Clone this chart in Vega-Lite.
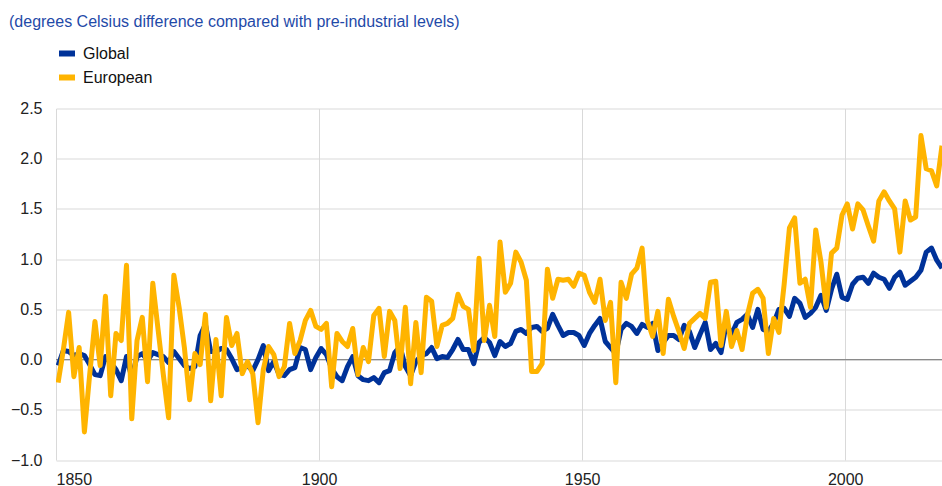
{
  "$schema": "https://vega.github.io/schema/vega-lite/v6.json",
  "width": 886,
  "height": 351.5,
  "autosize": {"type": "none"},
  "padding": {"left": 56, "top": 108.5, "right": 0, "bottom": 26},
  "background": "white",
  "config": {"view": {"stroke": null}, "font": "Liberation Sans"},
  "title": {
    "text": "(degrees Celsius difference compared with pre-industrial levels)",
    "anchor": "start", "frame": "group", "dx": -47, "offset": 13,
    "font": "Liberation Sans", "fontSize": 16, "fontWeight": "normal", "color": "#1f4aa8"
  },
  "data": {"values": [
    {"year":1850,"Global":-0.06,"European":-0.23},
    {"year":1851,"Global":0.09,"European":0.10},
    {"year":1852,"Global":0.08,"European":0.47},
    {"year":1853,"Global":0.04,"European":-0.17},
    {"year":1854,"Global":0.06,"European":0.12},
    {"year":1855,"Global":0.04,"European":-0.72},
    {"year":1856,"Global":-0.05,"European":-0.15},
    {"year":1857,"Global":-0.15,"European":0.38},
    {"year":1858,"Global":-0.16,"European":-0.06},
    {"year":1859,"Global":0.03,"European":0.63},
    {"year":1860,"Global":-0.03,"European":-0.36},
    {"year":1861,"Global":-0.10,"European":0.26},
    {"year":1862,"Global":-0.21,"European":0.19},
    {"year":1863,"Global":0.03,"European":0.94},
    {"year":1864,"Global":-0.18,"European":-0.59},
    {"year":1865,"Global":0.03,"European":0.19},
    {"year":1866,"Global":0.06,"European":0.42},
    {"year":1867,"Global":-0.01,"European":-0.22},
    {"year":1868,"Global":0.07,"European":0.76},
    {"year":1869,"Global":0.05,"European":0.30},
    {"year":1870,"Global":0.03,"European":-0.15},
    {"year":1871,"Global":-0.03,"European":-0.58},
    {"year":1872,"Global":0.08,"European":0.84},
    {"year":1873,"Global":0.01,"European":0.52},
    {"year":1874,"Global":-0.06,"European":0.12},
    {"year":1875,"Global":-0.09,"European":-0.40},
    {"year":1876,"Global":-0.07,"European":0.06},
    {"year":1877,"Global":0.24,"European":-0.05},
    {"year":1878,"Global":0.35,"European":0.45},
    {"year":1879,"Global":0.08,"European":-0.41},
    {"year":1880,"Global":0.08,"European":0.20},
    {"year":1881,"Global":0.11,"European":-0.36},
    {"year":1882,"Global":0.10,"European":0.42},
    {"year":1883,"Global":0.01,"European":0.14},
    {"year":1884,"Global":-0.10,"European":0.26},
    {"year":1885,"Global":-0.08,"European":-0.14},
    {"year":1886,"Global":-0.06,"European":-0.02},
    {"year":1887,"Global":-0.11,"European":-0.14},
    {"year":1888,"Global":0.00,"European":-0.63},
    {"year":1889,"Global":0.14,"European":-0.10},
    {"year":1890,"Global":-0.11,"European":0.13},
    {"year":1891,"Global":-0.02,"European":0.05},
    {"year":1892,"Global":-0.15,"European":-0.17},
    {"year":1893,"Global":-0.16,"European":-0.07},
    {"year":1894,"Global":-0.10,"European":0.36},
    {"year":1895,"Global":-0.08,"European":0.06},
    {"year":1896,"Global":0.12,"European":0.19},
    {"year":1897,"Global":0.10,"European":0.39},
    {"year":1898,"Global":-0.10,"European":0.49},
    {"year":1899,"Global":0.02,"European":0.33},
    {"year":1900,"Global":0.11,"European":0.30},
    {"year":1901,"Global":0.05,"European":0.36},
    {"year":1902,"Global":-0.09,"European":-0.27},
    {"year":1903,"Global":-0.17,"European":0.26},
    {"year":1904,"Global":-0.21,"European":0.18},
    {"year":1905,"Global":-0.07,"European":0.13},
    {"year":1906,"Global":0.03,"European":0.31},
    {"year":1907,"Global":-0.16,"European":-0.15},
    {"year":1908,"Global":-0.20,"European":0.12},
    {"year":1909,"Global":-0.21,"European":-0.02},
    {"year":1910,"Global":-0.18,"European":0.44},
    {"year":1911,"Global":-0.23,"European":0.51},
    {"year":1912,"Global":-0.13,"European":0.03},
    {"year":1913,"Global":-0.11,"European":0.48},
    {"year":1914,"Global":0.07,"European":0.39},
    {"year":1915,"Global":0.13,"European":-0.09},
    {"year":1916,"Global":-0.07,"European":0.52},
    {"year":1917,"Global":-0.16,"European":-0.24},
    {"year":1918,"Global":-0.02,"European":0.37},
    {"year":1919,"Global":0.04,"European":-0.13},
    {"year":1920,"Global":0.06,"European":0.62},
    {"year":1921,"Global":0.12,"European":0.58},
    {"year":1922,"Global":0.01,"European":0.13},
    {"year":1923,"Global":0.03,"European":0.34},
    {"year":1924,"Global":0.02,"European":0.36},
    {"year":1925,"Global":0.10,"European":0.41},
    {"year":1926,"Global":0.20,"European":0.65},
    {"year":1927,"Global":0.10,"European":0.53},
    {"year":1928,"Global":0.10,"European":0.50},
    {"year":1929,"Global":-0.04,"European":0.09},
    {"year":1930,"Global":0.17,"European":1.01},
    {"year":1931,"Global":0.22,"European":0.19},
    {"year":1932,"Global":0.17,"European":0.54},
    {"year":1933,"Global":0.04,"European":0.23},
    {"year":1934,"Global":0.18,"European":1.17},
    {"year":1935,"Global":0.13,"European":0.67},
    {"year":1936,"Global":0.16,"European":0.76},
    {"year":1937,"Global":0.28,"European":1.07},
    {"year":1938,"Global":0.30,"European":0.97},
    {"year":1939,"Global":0.26,"European":0.79},
    {"year":1940,"Global":0.32,"European":-0.12},
    {"year":1941,"Global":0.33,"European":-0.12},
    {"year":1942,"Global":0.28,"European":-0.04},
    {"year":1943,"Global":0.31,"European":0.90},
    {"year":1944,"Global":0.45,"European":0.61},
    {"year":1945,"Global":0.34,"European":0.80},
    {"year":1946,"Global":0.24,"European":0.79},
    {"year":1947,"Global":0.27,"European":0.80},
    {"year":1948,"Global":0.27,"European":0.73},
    {"year":1949,"Global":0.24,"European":0.86},
    {"year":1950,"Global":0.14,"European":0.84},
    {"year":1951,"Global":0.26,"European":0.67},
    {"year":1952,"Global":0.34,"European":0.57},
    {"year":1953,"Global":0.41,"European":0.80},
    {"year":1954,"Global":0.18,"European":0.39},
    {"year":1955,"Global":0.12,"European":0.57},
    {"year":1956,"Global":0.06,"European":-0.23},
    {"year":1957,"Global":0.30,"European":0.77},
    {"year":1958,"Global":0.36,"European":0.61},
    {"year":1959,"Global":0.33,"European":0.85},
    {"year":1960,"Global":0.26,"European":0.91},
    {"year":1961,"Global":0.35,"European":1.11},
    {"year":1962,"Global":0.32,"European":0.39},
    {"year":1963,"Global":0.36,"European":0.23},
    {"year":1964,"Global":0.09,"European":0.48},
    {"year":1965,"Global":0.17,"European":0.06},
    {"year":1966,"Global":0.24,"European":0.60},
    {"year":1967,"Global":0.24,"European":0.43},
    {"year":1968,"Global":0.20,"European":0.28},
    {"year":1969,"Global":0.34,"European":0.11},
    {"year":1970,"Global":0.28,"European":0.36},
    {"year":1971,"Global":0.12,"European":0.41},
    {"year":1972,"Global":0.25,"European":0.46},
    {"year":1973,"Global":0.37,"European":0.41},
    {"year":1974,"Global":0.10,"European":0.77},
    {"year":1975,"Global":0.16,"European":0.78},
    {"year":1976,"Global":0.07,"European":0.14},
    {"year":1977,"Global":0.36,"European":0.48},
    {"year":1978,"Global":0.25,"European":0.13},
    {"year":1979,"Global":0.37,"European":0.29},
    {"year":1980,"Global":0.40,"European":0.10},
    {"year":1981,"Global":0.45,"European":0.44},
    {"year":1982,"Global":0.32,"European":0.66},
    {"year":1983,"Global":0.50,"European":0.70},
    {"year":1984,"Global":0.30,"European":0.61},
    {"year":1985,"Global":0.28,"European":0.06},
    {"year":1986,"Global":0.36,"European":0.41},
    {"year":1987,"Global":0.50,"European":0.27},
    {"year":1988,"Global":0.51,"European":0.75},
    {"year":1989,"Global":0.43,"European":1.31},
    {"year":1990,"Global":0.61,"European":1.41},
    {"year":1991,"Global":0.56,"European":0.76},
    {"year":1992,"Global":0.42,"European":0.80},
    {"year":1993,"Global":0.46,"European":0.52},
    {"year":1994,"Global":0.52,"European":1.29},
    {"year":1995,"Global":0.64,"European":0.97},
    {"year":1996,"Global":0.49,"European":0.52},
    {"year":1997,"Global":0.70,"European":1.06},
    {"year":1998,"Global":0.85,"European":1.11},
    {"year":1999,"Global":0.62,"European":1.44},
    {"year":2000,"Global":0.60,"European":1.55},
    {"year":2001,"Global":0.75,"European":1.30},
    {"year":2002,"Global":0.81,"European":1.55},
    {"year":2003,"Global":0.82,"European":1.49},
    {"year":2004,"Global":0.76,"European":1.33},
    {"year":2005,"Global":0.86,"European":1.18},
    {"year":2006,"Global":0.82,"European":1.58},
    {"year":2007,"Global":0.80,"European":1.67},
    {"year":2008,"Global":0.71,"European":1.58},
    {"year":2009,"Global":0.82,"European":1.50},
    {"year":2010,"Global":0.87,"European":1.07},
    {"year":2011,"Global":0.74,"European":1.58},
    {"year":2012,"Global":0.78,"European":1.39},
    {"year":2013,"Global":0.82,"European":1.42},
    {"year":2014,"Global":0.89,"European":2.23},
    {"year":2015,"Global":1.07,"European":1.90},
    {"year":2016,"Global":1.11,"European":1.88},
    {"year":2017,"Global":0.99,"European":1.73},
    {"year":2018,"Global":0.91,"European":2.13}
  ]},
  "layer": [
    {
      "data": {"values": [{"v": 0}]},
      "mark": {"type": "rule", "color": "#8a8a8a", "strokeWidth": 1.2},
      "encoding": {"y": {"field": "v", "type": "quantitative"}}
    },
    {
      "transform": [{"fold": ["Global", "European"], "as": ["series", "value"]}, {"filter": "datum.series === 'Global'"}],
      "mark": {"type": "line", "strokeWidth": 5, "strokeJoin": "round", "clip": true},
      "encoding": {
        "x": {"field": "year", "type": "quantitative"},
        "y": {"field": "value", "type": "quantitative"},
        "color": {"field": "series", "type": "nominal"}
      }
    },
    {
      "transform": [{"fold": ["Global", "European"], "as": ["series", "value"]}, {"filter": "datum.series === 'European'"}],
      "mark": {"type": "line", "strokeWidth": 5, "strokeJoin": "round", "clip": true},
      "encoding": {
        "x": {"field": "year", "type": "quantitative",
          "scale": {"domain": [1849.6, 2018], "nice": false, "zero": false},
          "axis": {"values": [1849.6, 1899.6, 1949.6, 1999.6], "labelExpr": "format(round(datum.value), 'd')",
            "title": null, "grid": true, "gridColor": "#d9d9d9", "gridWidth": 1, "domain": false, "ticks": false,
            "labelFontSize": 16, "labelColor": "#222222", "labelPadding": 11, "labelFont": "Liberation Sans"}},
        "y": {"field": "value", "type": "quantitative",
          "scale": {"domain": [-1, 2.5], "nice": false, "zero": false},
          "axis": {"values": [-1, -0.5, 0, 0.5, 1, 1.5, 2, 2.5], "format": ".1f",
            "title": null, "grid": true, "gridColor": "#d9d9d9", "gridWidth": 1, "domain": false, "ticks": false,
            "labelFontSize": 16, "labelColor": "#222222", "labelPadding": 14, "labelFont": "Liberation Sans"}},
        "color": {"field": "series", "type": "nominal",
          "scale": {"domain": ["Global", "European"], "range": ["#003299", "#FFB400"]},
          "legend": {"orient": "none", "legendX": 0, "legendY": -66, "title": null,
            "symbolType": "stroke", "symbolStrokeWidth": 6, "symbolSize": 256,
            "labelFontSize": 16, "labelColor": "#111111", "labelFont": "Liberation Sans",
            "rowPadding": 0, "labelOffset": 5}}
      }
    }
  ]
}
